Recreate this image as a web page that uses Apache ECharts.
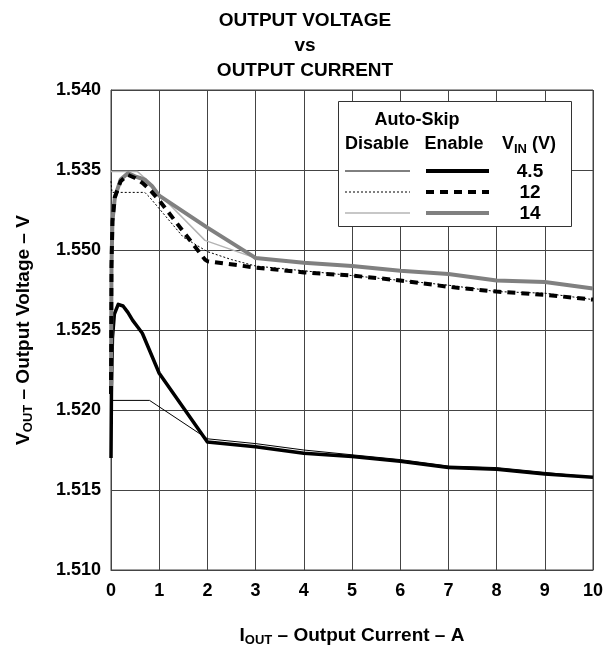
<!DOCTYPE html>
<html>
<head>
<meta charset="utf-8">
<script src="https://cdn.jsdelivr.net/npm/echarts@6/dist/echarts.min.js"></script>
<style>html,body{margin:0;padding:0;background:#fff;}#c{width:613px;height:652px;}</style>
</head>
<body>
<div id="c"></div>
<script>
// ---- data ----
const xTickLabels = ['0','1','2','3','4','5','6','7','8','9','10'];
const yTickLabels = ['1.510','1.515','1.520','1.525','1.550','1.535','1.540'];
// V_IN = 4.5 V
const dis45 = [[0,1.5206],[0.8,1.5206],[0.95,1.5203],[2,1.5182],[3,1.5179],[4,1.5175],[5,1.5172],[6,1.5169],[7,1.5165],[8,1.5164],[9,1.5161],[10,1.5158]];
const en45 = [[0,1.5170],[0.01,1.5215],[0.03,1.5245],[0.07,1.5260],[0.15,1.5266],[0.25,1.5265],[0.35,1.5261],[0.45,1.5256],[0.55,1.5252],[0.65,1.5248],[1,1.5223],[2,1.5180],[3,1.5177],[4,1.5173],[5,1.5171],[6,1.5168],[7,1.5164],[8,1.5163],[9,1.5160],[10,1.5158]];
// V_IN = 12 V
const dis12 = [[0,1.5343],[0.02,1.5336],[0.7,1.5336],[0.8,1.5333],[1.08,1.5323],[1.5,1.5308],[2,1.5299],[2.5,1.5294],[3,1.5290],[4,1.5287],[5,1.5284],[6,1.5281],[7,1.5278],[8,1.5274],[9,1.5273],[10,1.5269]];
const en12 = [[0,1.5210],[0.01,1.5290],[0.03,1.5318],[0.08,1.5333],[0.2,1.5343],[0.35,1.5347],[0.5,1.5345],[0.65,1.5342],[0.8,1.5338],[1,1.5331],[1.95,1.5294],[2,1.5293],[3,1.5289],[4,1.5286],[5,1.5284],[6,1.5281],[7,1.5277],[8,1.5274],[9,1.5272],[10,1.5269]];
// V_IN = 14 V
const dis14 = [[0,1.5349],[0.55,1.5349],[0.7,1.5345],[1,1.5335],[1.95,1.5306],[2.9,1.5296],[3,1.5295],[4,1.5292],[5,1.5290],[6,1.5287],[7,1.5285],[8,1.5281],[9,1.5280],[10,1.5276]];
const en14 = [[0,1.5210],[0.01,1.5290],[0.03,1.5318],[0.08,1.5333],[0.2,1.5344],[0.35,1.5348],[0.5,1.5346],[0.6,1.5345],[0.7,1.5344],[0.85,1.5340],[1,1.5334],[2,1.5314],[2.95,1.5296],[3,1.5295],[4,1.5292],[5,1.5290],[6,1.5287],[7,1.5285],[8,1.5281],[9,1.5280],[10,1.5276]];
const legendRows = ['4.5','12','14'];

const FONT = 'Liberation Sans, Arial, sans-serif';
const chart = echarts.init(document.getElementById('c'), null, {renderer:'canvas'});

function ln(data, color, width, type, z) {
  return {type:'line', data:data, symbol:'none', smooth:false, z:z,
    lineStyle:{color:color, width:width, type:type, cap:'butt', join:'round'}, silent:true};
}

// legend graphics
const LX = 338, LY = 101, LW = 233, LH = 125;
const rowY = [171, 192, 213];
const g = [
  {type:'rect', shape:{x:LX+0.5,y:LY+0.5,width:LW,height:LH}, style:{fill:'#fff',stroke:'#333',lineWidth:1}, z:100},
  {type:'text', x:417, y:120, style:{text:'Auto-Skip', font:'bold 18px '+FONT, fill:'#000', align:'center', verticalAlign:'middle'}, z:101},
  {type:'text', x:377, y:144, style:{text:'Disable', font:'bold 18px '+FONT, fill:'#000', align:'center', verticalAlign:'middle'}, z:101},
  {type:'text', x:454, y:144, style:{text:'Enable', font:'bold 18px '+FONT, fill:'#000', align:'center', verticalAlign:'middle'}, z:101},
  {type:'text', x:502, y:144, style:{text:'{b|V}{s|IN}{b| (V)}', align:'left', verticalAlign:'middle',
    rich:{b:{font:'bold 18px '+FONT, fill:'#000'}, s:{font:'bold 13px '+FONT, fill:'#000', padding:[11,0,0,0]}}}, z:101}
];
const dis = [['#000',1,'solid'],['#000',1,[2,2]],['#b4b4b4',1.5,'solid']];
const en = [['#000',4,'solid'],['#000',4,[8,6]],['#808080',4,'solid']];
for (let i=0;i<3;i++){
  g.push({type:'line', shape:{x1:345,y1:rowY[i],x2:410,y2:rowY[i]}, style:{stroke:dis[i][0],lineWidth:dis[i][1],lineDash:dis[i][2]==='solid'?null:dis[i][2]}, z:101});
  g.push({type:'line', shape:{x1:426,y1:rowY[i],x2:489,y2:rowY[i]}, style:{stroke:en[i][0],lineWidth:en[i][1],lineDash:en[i][2]==='solid'?null:en[i][2]}, z:101});
  g.push({type:'text', x:530, y:rowY[i]+1, style:{text:legendRows[i], font:'bold 19px '+FONT, fill:'#000', align:'center', verticalAlign:'middle'}, z:101});
}

chart.setOption({
  animation:false,
  backgroundColor:'#fff',
  title:{text:'OUTPUT VOLTAGE\nvs\nOUTPUT CURRENT', left:300, top:3, textAlign:'center',
    textStyle:{fontFamily:FONT, fontWeight:'bold', fontSize:19, lineHeight:25, color:'#000'}},
  grid:{left:111, right:20, top:90, bottom:80, show:true, borderColor:'#444', borderWidth:1, containLabel:false},
  xAxis:{type:'value', min:0, max:10, interval:1,
    name:'{b|I}{s|OUT}{b| – Output Current – A}', nameLocation:'middle', nameGap:55,
    nameTextStyle:{rich:{b:{fontFamily:FONT,fontWeight:'bold',fontSize:19,color:'#000'}, s:{fontFamily:FONT,fontWeight:'bold',fontSize:13,color:'#000',padding:[9,0,0,0]}}},
    axisLine:{show:true, lineStyle:{color:'#444',width:1}}, axisTick:{show:false},
    splitLine:{show:true, lineStyle:{color:'#444',width:1}},
    axisLabel:{margin:12, fontFamily:FONT, fontWeight:'bold', fontSize:18, color:'#000',
      formatter:function(v){return xTickLabels[Math.round(v)];}}},
  yAxis:{type:'value', min:1.510, max:1.540, interval:0.005,
    name:'{b|V}{s|OUT}{b| – Output Voltage – V}', nameLocation:'middle', nameGap:76, nameRotate:90,
    nameTextStyle:{rich:{b:{fontFamily:FONT,fontWeight:'bold',fontSize:19,color:'#000'}, s:{fontFamily:FONT,fontWeight:'bold',fontSize:13,color:'#000',padding:[9,0,0,0]}}},
    axisLine:{show:true, lineStyle:{color:'#444',width:1}}, axisTick:{show:false},
    splitLine:{show:true, lineStyle:{color:'#444',width:1}},
    axisLabel:{margin:10, fontFamily:FONT, fontWeight:'bold', fontSize:18, color:'#000',
      formatter:function(v){return yTickLabels[Math.round((v-1.510)/0.005)];}}},
  series:[
    ln(dis45,'#000',1,'solid',2),
    ln(dis12,'#000',1,[2,2],2),
    ln(dis14,'#b4b4b4',1.5,'solid',2),
    ln(en45,'#000',3.5,'solid',3),
    ln(en14,'#808080',4,'solid',3),
    ln(en12,'#000',4,[8,6],4)
  ],
  graphic:g
});
</script>
</body>
</html>
